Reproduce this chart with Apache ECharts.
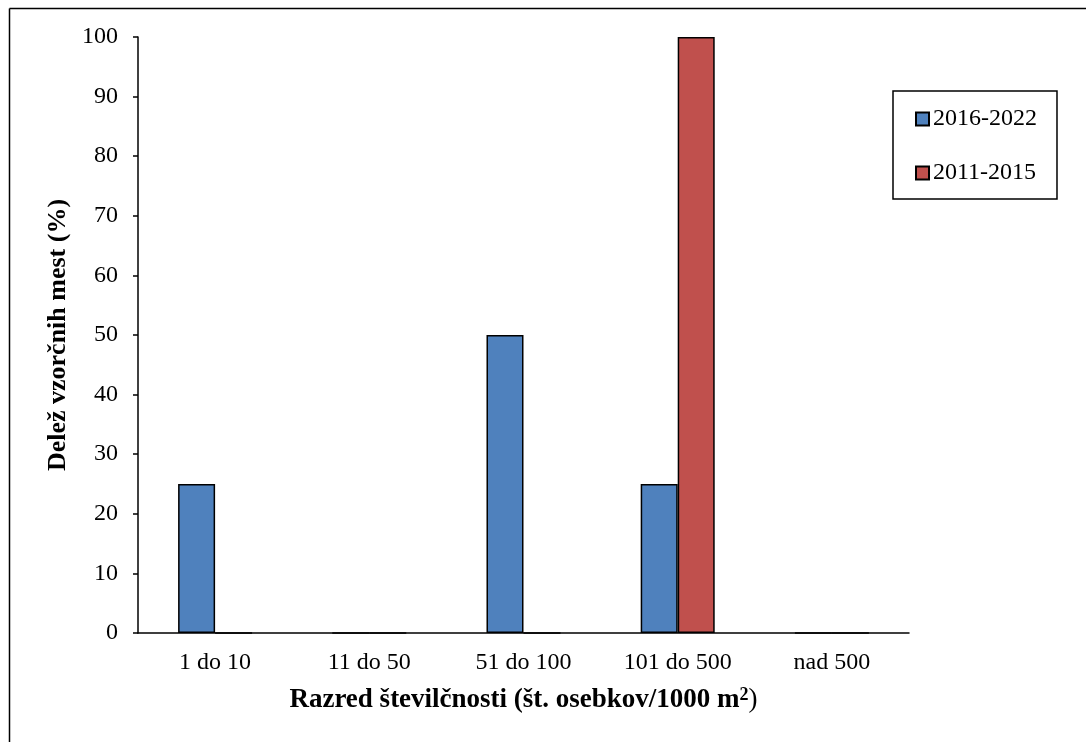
<!DOCTYPE html>
<html><head><meta charset="utf-8">
<script src="https://cdn.jsdelivr.net/npm/echarts@6/dist/echarts.min.js"></script>
<style>html,body{margin:0;padding:0;background:#fff}#c{width:1086px;height:742px}</style>
</head><body><div id="c"></div>
<script>
const categories = ['1 do 10', '11 do 50', '51 do 100', '101 do 500', 'nad 500'];
const series2016 = [25, 0, 50, 25, 0];
const series2011 = [0, 0, 0, 100, 0];
const seriesNames = ['2016-2022', '2011-2015'];
const yTicks = { min: 0, max: 100, interval: 10 };

const font = "'Liberation Serif', 'Times New Roman', serif";
const chart = echarts.init(document.getElementById('c'));
chart.setOption({
  animation: false,
  textStyle: { fontFamily: font },
  graphic: [
    { type: 'line', shape: { x1: 9.5, y1: 8.5, x2: 1100, y2: 8.5 }, style: { stroke: '#000', lineWidth: 1.5 } },
    { type: 'line', shape: { x1: 9.5, y1: 8.5, x2: 9.5, y2: 760 }, style: { stroke: '#000', lineWidth: 1.5 } }
  ],
  grid: { left: 138, right: 177, top: 37, bottom: 109, containLabel: false },
  legend: {
    orient: 'vertical',
    left: 893, top: 91,
    itemWidth: 13, itemHeight: 13,
    itemGap: 30,
    padding: [16, 20, 14, 22],
    borderColor: '#000', borderWidth: 1.5,
    icon: 'rect',
    textStyle: { fontFamily: font, fontSize: 24, color: '#000', padding: [0, 0, 0, -1] },
    data: seriesNames
  },
  xAxis: {
    type: 'category',
    data: categories,
    axisLine: { lineStyle: { color: '#000', width: 1.5 } },
    axisTick: { show: false },
    axisLabel: { fontFamily: font, fontSize: 24, color: '#000', margin: 18 },
    name: '{b|Razred številčnosti (št. osebkov/1000 m}{s|2}{n|)}',
    nameLocation: 'middle',
    nameGap: 53,
    nameTextStyle: {
      fontFamily: font, fontSize: 27, fontWeight: 'bold', color: '#000',
      rich: {
        b: { fontFamily: font, fontSize: 27, fontWeight: 'bold', color: '#000' },
        s: { fontFamily: font, fontSize: 18, fontWeight: 'bold', color: '#000', verticalAlign: 'top', padding: [0, 0, 10, 0] },
        n: { fontFamily: font, fontSize: 27, fontWeight: 'normal', color: '#000' }
      }
    }
  },
  yAxis: {
    type: 'value',
    min: yTicks.min, max: yTicks.max, interval: yTicks.interval,
    splitLine: { show: false },
    axisLine: { show: true, lineStyle: { color: '#000', width: 1.5 } },
    axisTick: { show: true, inside: false, length: 5, lineStyle: { color: '#000', width: 1.5 } },
    axisLabel: { fontFamily: font, fontSize: 24, color: '#000', margin: 20 },
    name: 'Delež vzorčnih mest (%)',
    nameLocation: 'middle',
    nameGap: 64,
    nameTextStyle: { fontFamily: font, fontSize: 26, fontWeight: 'bold', color: '#000' }
  },
  series: [
    {
      name: seriesNames[0], type: 'bar', data: series2016,
      barGap: '0%', barCategoryGap: '52%',
      itemStyle: { color: '#4F81BD', borderColor: '#000', borderWidth: 1.5 }
    },
    {
      name: seriesNames[1], type: 'bar', data: series2011,
      barGap: '0%', barCategoryGap: '52%',
      itemStyle: { color: '#C0504D', borderColor: '#000', borderWidth: 1.5 }
    }
  ]
});
</script></body></html>
